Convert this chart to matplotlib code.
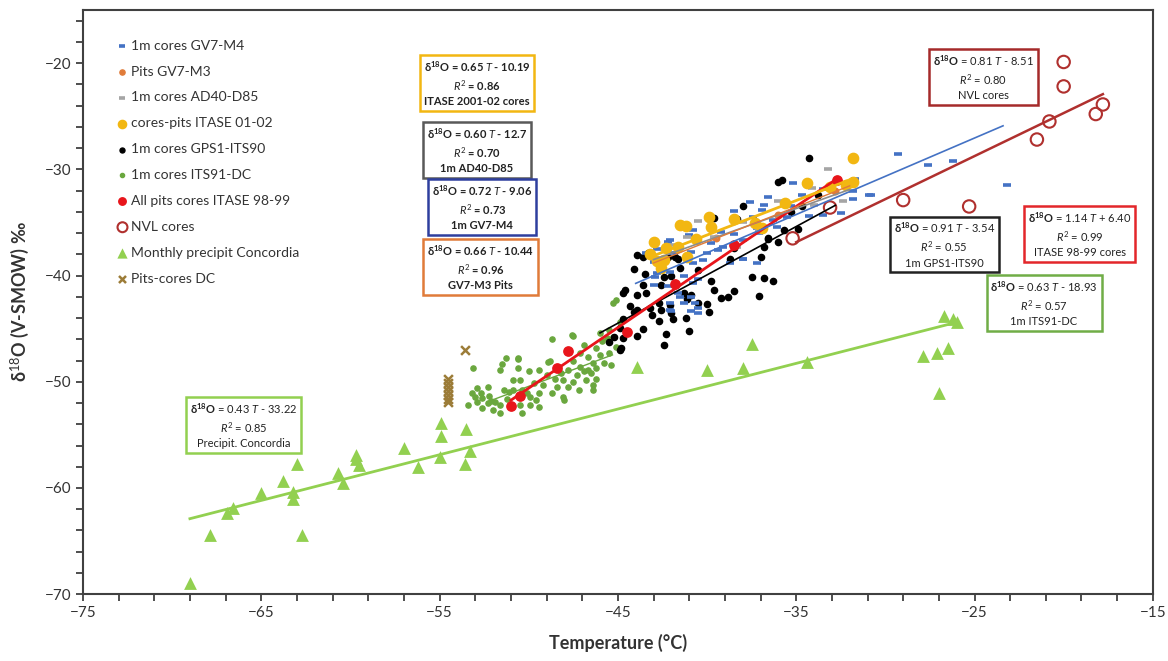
import matplotlib
matplotlib.use('Agg')
import matplotlib.pyplot as plt
import numpy as np

plt.rcParams['font.family'] = ['Lato', 'DejaVu Sans']
plt.rcParams['mathtext.fontset'] = 'custom'
plt.rcParams['mathtext.rm'] = 'Lato'
plt.rcParams['mathtext.it'] = 'Lato:italic'
plt.rcParams['mathtext.bf'] = 'Lato:bold'

# ---- data (T in degC, d18O in permil) ----
gv7m4_T = [-42.2, -42.8, -41.9, -40.9, -40.0, -43.0, -40.8, -40.2, -38.7, -38.0,
           -42.8, -42.1, -41.3, -40.5, -43.0, -42.2, -41.6, -40.9, -42.1, -41.3,
           -40.5, -42.0, -40.9, -37.2, -37.1, -36.1, -38.0, -39.4, -37.6, -38.5,
           -36.6, -35.2, -34.7, -33.5, -31.7, -31.8, -30.8, -32.5, -31.8, -35.5,
           -36.3, -34.3, -33.5, -37.2, -40.8, -42.1, -39.1, -38.0, -38.5, -37.4,
           -35.3, -42.9, -40.8, -40.7, -41.5, -42.1, -40.5, -29.3, -27.6, -26.2,
           -23.2, -30.9, -36.8, -39.8, -43.4, -41.0, -39.2, -36.9]
gv7m4_d = [-36.8, -37.5, -37.9, -37.8, -37.9, -38.7, -38.8, -38.5, -38.8, -38.4,
           -39.8, -39.7, -40.0, -40.3, -40.9, -41.0, -41.6, -42.0, -42.6, -42.6,
           -43.1, -43.3, -43.3, -38.8, -36.0, -35.4, -36.7, -37.6, -33.1, -33.9,
           -32.6, -31.3, -32.4, -31.9, -30.9, -32.0, -32.4, -34.1, -32.8, -34.5,
           -34.8, -34.4, -34.3, -35.5, -35.7, -36.7, -37.3, -38.4, -36.1, -34.5,
           -33.5, -40.1, -40.7, -42.6, -42.0, -43.2, -43.5, -28.6, -29.6, -29.2,
           -31.5, -32.4, -33.4, -36.9, -37.9, -36.2, -35.9, -33.8]

gv7m3_T = [-42.5, -39.5, -36.0, -32.8]
gv7m3_d = [-38.4, -36.5, -34.3, -32.0]

ad40_T = [-33.2, -32.4, -40.5, -41.1, -39.6, -38.3, -34.1, -41.9, -37.1, -38.0,
          -34.0, -32.7, -42.6, -36.0]
ad40_d = [-30.0, -33.0, -34.9, -36.4, -36.4, -37.3, -31.8, -37.1, -35.7, -35.0,
          -33.4, -31.3, -39.7, -33.0]

itase01_T = [-31.8, -34.4, -31.8, -41.5, -39.9, -38.5, -39.8, -43.0, -42.3, -43.2,
             -42.4, -42.8, -36.9, -37.3, -41.6, -41.2, -40.6, -35.6, -33.1, -32.2,
             -41.1, -42.6]
itase01_d = [-28.9, -31.3, -31.2, -35.2, -34.5, -34.7, -35.4, -36.8, -37.4, -38.0,
             -38.5, -38.6, -35.5, -35.1, -37.3, -35.3, -36.6, -33.2, -31.7, -31.5,
             -38.3, -39.3]

gps1_T = [-34.3, -36.0, -35.8, -37.0, -37.5, -36.8, -36.3, -38.5, -38.8, -39.2,
          -37.1, -39.6, -39.8, -40.0, -39.9, -41.2, -41.9, -42.3, -42.7, -43.6,
          -43.9, -44.7, -44.8, -44.1, -43.9, -43.6, -43.5, -44.6, -43.9, -44.3,
          -43.9, -44.7, -43.2, -43.1, -42.7, -42.6, -42.1, -42.0, -41.3, -41.1,
          -40.9, -40.5, -42.4, -42.0, -42.6, -41.8, -41.5, -40.5, -38.7, -38.5,
          -36.8, -36.6, -36.0, -35.7, -43.3, -42.2, -43.6, -43.4, -38.0, -39.6,
          -38.3, -41.6, -35.3, -34.9, -36.6, -33.8, -34.7, -44.7, -44.9, -44.9,
          -44.1, -45.2, -45.5, -42.4, -41.0]
gps1_d = [-28.9, -31.2, -31.0, -38.3, -40.1, -40.2, -40.5, -41.5, -42.0, -42.1,
          -41.9, -41.4, -40.5, -42.7, -43.4, -44.0, -44.1, -45.5, -44.3, -45.0,
          -45.7, -45.9, -46.8, -39.4, -38.1, -38.3, -39.9, -41.4, -41.8, -42.9,
          -43.2, -44.1, -43.1, -43.7, -42.6, -43.2, -42.8, -43.5, -41.6, -42.2,
          -41.8, -42.6, -40.1, -40.0, -40.9, -38.3, -39.3, -39.5, -38.4, -37.4,
          -37.3, -36.5, -36.8, -35.7, -37.9, -38.3, -40.9, -41.6, -33.5, -34.6,
          -34.7, -38.4, -34.0, -35.6, -36.6, -32.4, -33.5, -41.6, -47.0, -44.9,
          -43.4, -45.8, -46.3, -46.5, -45.2]

its91_T = [-45.3, -47.6, -48.7, -46.9, -46.2, -45.6, -45.3, -45.9, -45.1, -45.5,
           -46.0, -46.7, -47.1, -47.5, -46.4, -45.8, -45.4, -46.2, -46.7, -47.1,
           -47.8, -48.2, -47.3, -46.5, -46.2, -46.8, -47.5, -48.1, -48.5, -49.0,
           -48.8, -49.4, -50.0, -50.5, -49.7, -49.2, -48.4, -47.8, -47.2, -46.4,
           -46.4, -48.1, -48.7, -49.4, -49.9, -50.4, -50.9, -51.4, -50.9, -51.3,
           -51.6, -50.6, -51.5, -53.1, -52.3, -52.9, -53.2, -52.7, -53.0, -52.6,
           -52.2, -52.9, -52.3, -51.9, -52.6, -52.0, -51.6, -50.5, -49.9, -49.4,
           -50.4, -51.6, -51.1, -50.1, -50.6, -46.0, -45.5, -45.1, -47.5, -50.6,
           -48.9, -53.4, -52.1, -51.2, -49.6, -44.9, -46.9, -48.0]
its91_d = [-42.6, -45.6, -46.0, -46.5, -46.8, -45.9, -45.8, -46.2, -46.7, -47.3,
           -47.5, -47.7, -47.3, -48.0, -48.2, -48.2, -48.4, -48.7, -48.9, -48.6,
           -48.9, -49.2, -49.4, -49.2, -49.7, -49.8, -50.0, -49.8, -49.7, -49.4,
           -48.0, -48.9, -49.0, -49.8, -50.1, -50.3, -50.5, -50.5, -50.8, -50.3,
           -50.8, -51.4, -51.1, -51.1, -51.4, -50.8, -50.8, -50.8, -49.8, -47.8,
           -48.9, -47.8, -48.3, -48.7, -50.5, -50.6, -51.1, -51.1, -51.4, -51.5,
           -51.3, -51.9, -52.0, -51.9, -52.5, -52.7, -52.2, -52.2, -52.2, -52.4,
           -52.9, -52.9, -51.0, -51.1, -48.7, -45.4, -45.1, -42.3, -45.7, -47.9,
           -48.1, -52.2, -51.8, -51.6, -51.7, -44.4, -49.0, -51.7]

itase98_T = [-51.0, -50.5, -48.4, -47.8, -44.5, -41.8, -38.5, -32.7]
itase98_d = [-52.3, -51.3, -48.7, -47.1, -45.3, -40.8, -37.1, -31.0]

nvl_T = [-20.0, -20.0, -17.8, -18.2, -20.8, -21.5, -29.0, -25.3, -33.1, -35.2]
nvl_d = [-19.9, -22.2, -23.9, -24.8, -25.5, -27.2, -32.9, -33.5, -33.6, -36.5]

precip_T = [-69.0, -67.9, -66.9, -66.6, -65.0, -63.8, -63.0, -63.2, -63.2, -62.7,
            -60.7, -60.4, -59.7, -59.7, -59.5, -57.0, -56.2, -54.9, -54.9, -55.0,
            -53.5, -53.6, -53.3, -43.9, -40.0, -38.0, -37.5, -34.4, -26.7, -26.2,
            -26.0, -27.9, -27.1, -26.5, -27.0]
precip_d = [-68.9, -64.4, -62.4, -61.9, -60.5, -59.3, -57.7, -60.4, -61.0, -64.4,
            -58.6, -59.5, -56.9, -57.3, -57.8, -56.2, -58.0, -53.9, -55.1, -57.1,
            -54.4, -57.7, -56.5, -48.6, -48.9, -48.7, -46.4, -48.1, -43.8, -44.1,
            -44.4, -47.6, -47.3, -46.8, -51.1]

dc_T = [-53.6, -54.5, -54.5, -54.5, -54.5, -54.5, -54.5, -54.5]
dc_d = [-47.0, -49.7, -50.1, -50.5, -50.9, -51.2, -51.6, -51.9]

# regression fits as printed in the boxes: slope, intercept, T range
fit_names = ['precip', 'its91', 'gps1', 'itase98', 'nvl', 'gv7m4', 'ad40', 'gv7m3', 'itase01']
fit_slope = [0.43, 0.63, 0.91, 1.14, 0.81, 0.72, 0.60, 0.66, 0.65]
fit_icept = [-33.22, -18.93, -3.54, 6.40, -8.51, -9.06, -12.7, -10.44, -10.19]
fit_tmin = [-69.0, -52.2, -46.0, -51.0, -35.0, -44.0, -43.0, -43.0, -43.0]
fit_tmax = [-26.0, -45.3, -32.8, -32.7, -17.8, -23.4, -32.0, -32.0, -32.0]

# annotation boxes: equation text, R2, label
box_eq = ['0.65 $T$ - 10.19', '0.60 $T$ - 12.7', '0.72 $T$ - 9.06', '0.66 $T$ - 10.44',
          '0.81 $T$ - 8.51', '0.91 $T$ - 3.54', '1.14 $T$ + 6.40', '0.63 $T$ - 18.93',
          '0.43 $T$ - 33.22']
box_r2 = ['0.86', '0.70', '0.73', '0.96', '0.80', '0.55', '0.99', '0.57', '0.85']
box_lab = ['ITASE 2001-02 cores', '1m AD40-D85', '1m GV7-M4', 'GV7-M3 Pits',
           'NVL cores', '1m GPS1-ITS90', 'ITASE 98-99 cores', '1m ITS91-DC',
           'Precipit. Concordia']

C_BLUE = '#4472c4'
C_ORANGE = '#e07b39'
C_GRAY = '#a5a5a5'
C_YELLOW = '#f2b712'
C_GREEN = '#6aa73e'
C_RED = '#e8151b'
C_NVL = '#b0302e'
C_PREC = '#92d050'
C_DC = '#9c7c38'

fig = plt.figure(figsize=(11.68, 6.61), dpi=100)
ax = fig.add_axes([0.071, 0.101, 0.916, 0.884])

ax.scatter(gv7m3_T, gv7m3_d, s=22, color=C_ORANGE, zorder=2, label='Pits GV7-M3')
ax.scatter(its91_T, its91_d, s=14, color=C_GREEN, zorder=3, label='1m cores ITS91-DC')
ax.scatter(precip_T, precip_d, s=85, marker='^', color=C_PREC, linewidths=0, zorder=3,
           label='Monthly precipit Concordia')
ax.scatter(dc_T, dc_d, s=40, marker='x', color=C_DC, linewidths=1.8, zorder=3,
           label='Pits-cores DC')
ax.scatter(gps1_T, gps1_d, s=20, color='black', zorder=4, label='1m cores GPS1-ITS90')
ax.scatter(gv7m4_T, gv7m4_d, s=38, marker='_', color=C_BLUE, linewidths=2.6, zorder=5,
           label='1m cores GV7-M4')
ax.scatter(ad40_T, ad40_d, s=38, marker='_', color=C_GRAY, linewidths=2.6, zorder=5,
           label='1m cores AD40-D85')
ax.scatter(itase01_T, itase01_d, s=55, color=C_YELLOW, zorder=5, label='cores-pits ITASE 01-02')
ax.scatter(itase98_T, itase98_d, s=45, color=C_RED, zorder=6, label='All pits cores ITASE 98-99')
ax.scatter(nvl_T, nvl_d, s=80, facecolors='none', edgecolors=C_NVL, linewidths=1.5, zorder=6,
           label='NVL cores')

fit_style = {
    'precip': (C_PREC, 2.0), 'its91': (C_GREEN, 1.0), 'gps1': ('black', 1.2),
    'itase98': (C_RED, 2.0), 'nvl': (C_NVL, 1.8), 'gv7m4': (C_BLUE, 1.2),
    'ad40': ('#8c8c8c', 1.2), 'gv7m3': (C_ORANGE, 1.0), 'itase01': (C_YELLOW, 2.0),
}
for name, a, b, t0, t1 in zip(fit_names, fit_slope, fit_icept, fit_tmin, fit_tmax):
    col, lw = fit_style[name]
    tt = np.array([t0, t1])
    ax.plot(tt, a * tt + b, color=col, lw=lw, zorder=7)

# boxes: (T, d18O) centre, edge colour, bold label
box_pos = [(-52.9, -21.9), (-52.9, -28.2), (-52.6, -33.6), (-52.7, -39.2),
           (-24.5, -21.3), (-26.7, -37.1), (-19.1, -36.1), (-21.1, -42.6), (-66.0, -54.1)]
box_col = ['#f2b712', '#595959', '#2e3f9e', '#e07b39', '#a52a2a', '#222222',
           '#e3262a', '#70ad47', '#92d050']
box_bold = [True, True, True, True, False, False, False, False, False]
for eq, r2, lab, (bx, by), col, bold in zip(box_eq, box_r2, box_lab, box_pos, box_col, box_bold):
    txt = r'$\mathbf{\delta^{18}O}$ = ' + eq + '\n$R^2$ = ' + r2 + '\n' + lab
    ax.text(bx, by, txt, ha='center', va='center', fontsize=8, color='#222222',
            fontweight='bold' if bold else 'normal', linespacing=1.35, zorder=8,
            bbox=dict(boxstyle='square,pad=0.35', fc='white', ec=col, lw=1.8))

ax.set_xlim(-75, -15)
ax.set_ylim(-70, -15)
ax.set_xticks(np.arange(-75, -14, 10))
ax.set_xticks(np.arange(-75, -14, 2), minor=True)
ax.set_yticks(np.arange(-70, -19, 10))
ax.set_yticks(np.arange(-70, -15, 2), minor=True)
ax.set_xticklabels(['\u221275', '\u221265', '\u221255', '\u221245', '\u221235', '\u221225', '\u221215'])
ax.set_yticklabels(['\u221270', '\u221260', '\u221250', '\u221240', '\u221230', '\u221220'])
ax.tick_params(which='both', direction='out', length=5, width=1.3, color='#404040',
               labelsize=11, labelcolor='#333333')
for sp in ax.spines.values():
    sp.set_color('#404040')
    sp.set_linewidth(1.5)

ax.set_xlabel('Temperature (\u00b0C)', fontsize=13, fontweight='bold', color='#333333', labelpad=10)
ax.set_ylabel('\u03b4$^{18}$O (V-SMOW) \u2030', fontsize=13, fontweight='bold', color='#333333',
              labelpad=10)

order = ['1m cores GV7-M4', 'Pits GV7-M3', '1m cores AD40-D85', 'cores-pits ITASE 01-02',
         '1m cores GPS1-ITS90', '1m cores ITS91-DC', 'All pits cores ITASE 98-99', 'NVL cores',
         'Monthly precipit Concordia', 'Pits-cores DC']
handles, labels = ax.get_legend_handles_labels()
hmap = dict(zip(labels, handles))
leg = ax.legend([hmap[o] for o in order], order, loc='upper left', bbox_to_anchor=(0.024, 0.961),
                frameon=False, fontsize=10, labelspacing=1.0, handletextpad=0.1,
                handlelength=1.0, borderpad=0, markerscale=0.8)
for t in leg.get_texts():
    t.set_color('#333333')

fig.savefig('out.png', dpi=100)
